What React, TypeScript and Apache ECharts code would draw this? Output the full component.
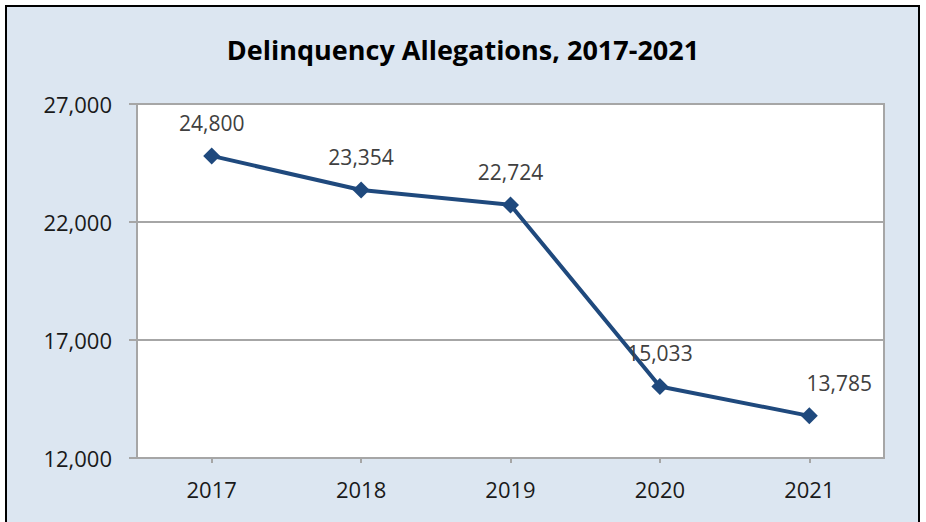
import React, { useEffect, useRef } from "react";
import * as echarts from "echarts";

const categories = ["2017", "2018", "2019", "2020", "2021"];
const allegations = [24800, 23354, 22724, 15033, 13785];
const yTicks = [12000, 17000, 22000, 27000];
const titleText = "Delinquency Allegations, 2017-2021";

const fmt = (v: number) => v.toLocaleString("en-US");

export default function App() {
  const ref = useRef<HTMLDivElement>(null);
  useEffect(() => {
    if (!ref.current) return;
    const chart = echarts.init(ref.current, null, { renderer: "svg" });
    const font = "'Open Sans', sans-serif";
    const data = allegations.map((v, i) =>
      i === allegations.length - 1 ? { value: v, label: { offset: [30, 0] } } : v
    );
    chart.setOption({
      animation: false,
      backgroundColor: "#ffffff",
      graphic: [
        {
          type: "rect",
          z: -10,
          shape: { x: 6, y: 6, width: 913, height: 540 },
          style: { fill: "#DCE6F1", stroke: "#000000", lineWidth: 2 },
        },
      ],
      title: {
        text: titleText,
        left: "center",
        top: 31,
        textStyle: { fontFamily: font, fontWeight: "bold", fontSize: 27, color: "#000000" },
      },
      grid: {
        left: 137,
        right: 42,
        top: 104,
        bottom: 64,
        show: true,
        backgroundColor: "#ffffff",
        borderColor: "#A6A6A6",
        borderWidth: 2,
      },
      xAxis: {
        type: "category",
        data: categories,
        boundaryGap: true,
        axisLine: { show: true, lineStyle: { color: "#A6A6A6", width: 2 } },
        axisTick: { show: true, alignWithLabel: true, length: 5, lineStyle: { color: "#A6A6A6", width: 2 } },
        axisLabel: { color: "#1a1a1a", fontFamily: font, fontSize: 22, margin: 20 },
      },
      yAxis: {
        type: "value",
        min: yTicks[0],
        max: yTicks[yTicks.length - 1],
        interval: yTicks[1] - yTicks[0],
        axisLine: { show: true, lineStyle: { color: "#A6A6A6", width: 2 } },
        axisTick: { show: true, length: 8, lineStyle: { color: "#A6A6A6", width: 2 } },
        splitLine: { show: true, lineStyle: { color: "#A6A6A6", width: 2 } },
        axisLabel: { color: "#1a1a1a", fontFamily: font, fontSize: 22, margin: 25, formatter: (v: number) => fmt(v) },
      },
      series: [
        {
          type: "line",
          data,
          symbol: "diamond",
          symbolSize: 17,
          lineStyle: { color: "#1F497D", width: 4 },
          itemStyle: { color: "#1F497D" },
          label: {
            show: true,
            position: "top",
            distance: 14,
            color: "#404040",
            fontFamily: font,
            fontSize: 21,
            formatter: (p: any) => fmt(p.value),
          },
        },
      ],
    });
    return () => chart.dispose();
  }, []);
  return <div ref={ref} style={{ position: "fixed", left: 0, top: 0, width: 926, height: 522 }} />;
}
